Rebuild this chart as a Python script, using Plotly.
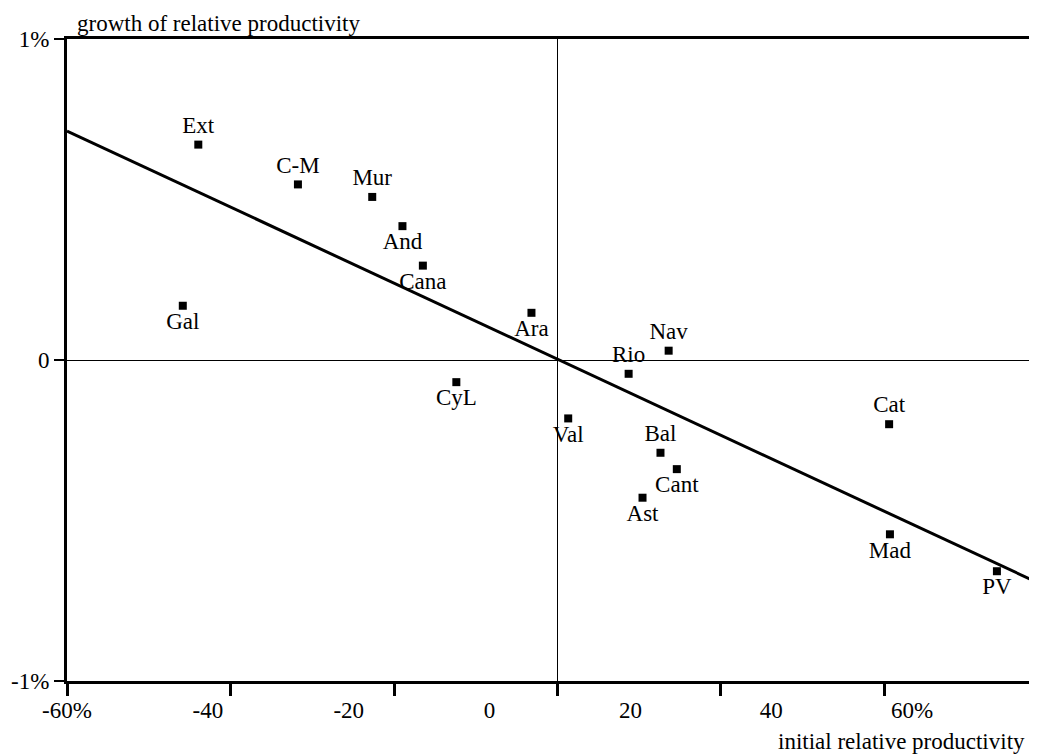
import numpy as np
import plotly.graph_objects as go

# ---- data ----
regions = ["Ext", "C-M", "Mur", "And", "Cana", "Gal", "Ara", "Nav", "Rio",
           "CyL", "Val", "Bal", "Cant", "Ast", "Cat", "Mad", "PV"]
initial_productivity = [-44.0, -31.8, -22.7, -19.0, -16.5, -45.9, -3.2, 13.6, 8.7,
                        -12.4, 1.3, 12.6, 14.6, 10.4, 40.6, 40.7, 53.8]
productivity_growth = [0.671, 0.547, 0.508, 0.417, 0.294, 0.169, 0.147, 0.029, -0.043,
                       -0.069, -0.182, -0.289, -0.340, -0.429, -0.200, -0.543, -0.658]

x_tick_values = [-60, -40, -20, 0, 20, 40]
x_label_values = [-60, -40, -20, 0, 20, 40, 60]
x_label_text = ["-60%", "-40", "-20", "0", "20", "40", "60%"]
y_tick_values = [-1, 0, 1]
y_tick_text = ["-1%", "0", "1%"]

# ---- styles ----
label_side = ["top center", "top center", "top center", "bottom center", "bottom center",
              "bottom center", "bottom center", "top center", "top center", "bottom center",
              "bottom center", "top center", "bottom center", "bottom center", "top center",
              "bottom center", "bottom center"]

FONT = "Liberation Serif"
FS = 23
x_range = [-60.08, 58.71]
label_axis_range = [-60.0, 77.72]

slope, intercept = np.polyfit(np.array(initial_productivity), np.array(productivity_growth), 1)
line_x = np.array(x_range)
line_y = intercept + slope * line_x

fig = go.Figure()
fig.add_trace(go.Scatter(x=line_x, y=line_y, mode="lines",
                         line=dict(color="black", width=3), hoverinfo="skip",
                         showlegend=False, cliponaxis=True))
fig.add_trace(go.Scatter(x=initial_productivity, y=productivity_growth,
                         mode="markers+text", text=regions, textposition=label_side,
                         marker=dict(symbol="square", size=8, color="black"),
                         textfont=dict(family=FONT, size=FS, color="black"),
                         showlegend=False, cliponaxis=False))
# invisible trace to anchor the label axis
fig.add_trace(go.Scatter(x=[label_axis_range[0]], y=[0], xaxis="x2", mode="markers",
                         marker=dict(opacity=0), hoverinfo="skip", showlegend=False))

# the page body adds an 8px offset, so the figure is 8px smaller on each side
fig.update_layout(
    width=1029, height=747,
    margin=dict(l=59, r=0, t=31, b=74, autoexpand=False),
    paper_bgcolor="white", plot_bgcolor="white",
    font=dict(family=FONT, size=FS, color="black"),
    xaxis=dict(range=x_range, tickvals=x_tick_values, showticklabels=False,
               ticks="outside", ticklen=12, tickwidth=3, tickcolor="black",
               showline=True, linecolor="black", linewidth=3, mirror=True,
               showgrid=False, zeroline=True, zerolinecolor="black", zerolinewidth=1,
               automargin=False),
    xaxis2=dict(range=label_axis_range, overlaying="x", anchor="y", side="bottom",
                tickvals=x_label_values, ticktext=x_label_text,
                ticks="outside", ticklen=8, tickcolor="rgba(0,0,0,0)",
                showline=False, showgrid=False, zeroline=False, automargin=False,
                tickfont=dict(family=FONT, size=FS, color="black")),
    yaxis=dict(range=[-1, 1], tickvals=y_tick_values, ticktext=y_tick_text,
               ticks="outside", ticklen=10, tickwidth=2, tickcolor="black",
               showline=True, linecolor="black", linewidth=3,
               showgrid=False, zeroline=True, zerolinecolor="black", zerolinewidth=1,
               automargin=False,
               tickfont=dict(family=FONT, size=FS, color="black")),
    annotations=[
        dict(text="growth of relative productivity", xref="paper", yref="paper",
             x=0, y=1.0467, xanchor="left", yanchor="top", xshift=8,
             showarrow=False, font=dict(family=FONT, size=FS, color="black")),
        dict(text="initial relative productivity", xref="paper", yref="paper",
             x=1, y=-0.095, xanchor="right", yanchor="middle", xshift=-10,
             showarrow=False, font=dict(family=FONT, size=FS, color="black")),
    ],
)

fig.write_html("out.html")
